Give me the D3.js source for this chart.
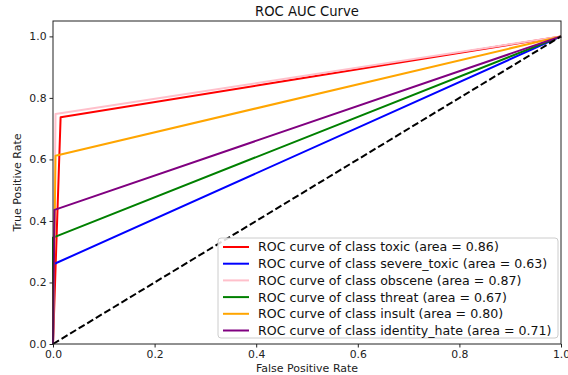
<html>
<head>
  <script src="https://d3js.org/d3.v7.min.js"></script>
  <title>ROC AUC Curve</title>
  <style>
    body { margin: 0; background: white; }
    text { font-family: "DejaVu Sans", sans-serif; }
  </style>
</head>
<body>
  <div id="container"></div>
  <script>
    // data
    var classes = ["toxic", "severe_toxic", "obscene", "threat", "insult", "identity_hate"];
    var colors = ["red", "blue", "pink", "green", "orange", "purple"];
    var fprMid = [0.015, 0.002, 0.005, 0.0, 0.005, 0.003];
    var tprMid = [0.737, 0.26, 0.748, 0.346, 0.612, 0.436];
    var aucs = ["0.86", "0.63", "0.87", "0.67", "0.80", "0.71"];
    var ticks = [0.0, 0.2, 0.4, 0.6, 0.8, 1.0];

    var width = 568, height = 375;
    var margin = {left: 53, right: 7, top: 21, bottom: 31};

    var svg = d3.select("#container")
      .append("svg")
      .attr("width", width)
      .attr("height", height);

    var x = d3.scaleLinear().domain([0, 1]).range([margin.left, width - margin.right]);
    var y = d3.scaleLinear().domain([0, 1.05]).range([height - margin.bottom, margin.top]);

    var line = d3.line().x(function(d){ return x(d[0]); }).y(function(d){ return y(d[1]); });

    var curves = svg.append("g");
    classes.forEach(function(c, i){
      var pts = [[0, 0], [fprMid[i], tprMid[i]], [1, 1]];
      curves.append("path")
        .attr("d", line(pts))
        .attr("fill", "none")
        .attr("stroke", colors[i])
        .attr("stroke-width", 2)
        .attr("stroke-linejoin", "round");
    });

    // chance diagonal
    svg.append("path")
      .attr("d", line([[0, 0], [1, 1]]))
      .attr("fill", "none")
      .attr("stroke", "black")
      .attr("stroke-width", 2)
      .attr("stroke-dasharray", "7,3");

    // axes
    var xAxis = svg.append("g")
      .attr("transform", "translate(0," + (height - margin.bottom) + ")")
      .call(d3.axisBottom(x).tickValues(ticks).tickFormat(d3.format(".1f")).tickSizeOuter(0).tickSize(3.5).tickPadding(3));
    var yAxis = svg.append("g")
      .attr("transform", "translate(" + margin.left + ",0)")
      .call(d3.axisLeft(y).tickValues(ticks).tickFormat(d3.format(".1f")).tickSizeOuter(0).tickSize(3.5).tickPadding(3));
    [xAxis, yAxis].forEach(function(a){
      a.select(".domain").remove();
      a.selectAll("text").style("font-family", "DejaVu Sans").style("font-size", "10.8px").attr("fill", "#222");
      a.selectAll("line").attr("stroke", "#222");
    });

    // frame
    svg.append("rect")
      .attr("x", x(0)).attr("y", y(1.05))
      .attr("width", x(1) - x(0)).attr("height", y(0) - y(1.05))
      .attr("fill", "none").attr("stroke", "#222").attr("stroke-width", 1);

    svg.append("text")
      .attr("x", (x(0) + x(1)) / 2).attr("y", 15.5)
      .attr("text-anchor", "middle").style("font-size", "13.2px").attr("fill", "#111")
      .text("ROC AUC Curve");
    svg.append("text")
      .attr("x", (x(0) + x(1)) / 2).attr("y", 372)
      .attr("text-anchor", "middle").style("font-size", "11px").attr("fill", "#222")
      .text("False Positive Rate");
    svg.append("text")
      .attr("transform", "translate(21," + ((y(0) + y(1.05)) / 2) + ") rotate(-90)")
      .attr("text-anchor", "middle").style("font-size", "11px").attr("fill", "#222")
      .text("True Positive Rate");

    // legend
    var lg = svg.append("g").attr("transform", "translate(218,238)");
    lg.append("rect")
      .attr("width", 340).attr("height", 100).attr("rx", 3)
      .attr("fill", "white").attr("fill-opacity", 0.85)
      .attr("stroke", "#ccc");
    classes.forEach(function(c, i){
      var yy = 9 + i * 16.7;
      lg.append("line")
        .attr("x1", 5).attr("x2", 31).attr("y1", yy).attr("y2", yy)
        .attr("stroke", colors[i]).attr("stroke-width", 2);
      lg.append("text")
        .attr("x", 40).attr("y", yy).attr("dy", "0.35em")
        .style("font-size", "12.6px").attr("fill", "#111")
        .text("ROC curve of class " + c + " (area = " + aucs[i] + ")");
    });
  </script>
</body>
</html>
